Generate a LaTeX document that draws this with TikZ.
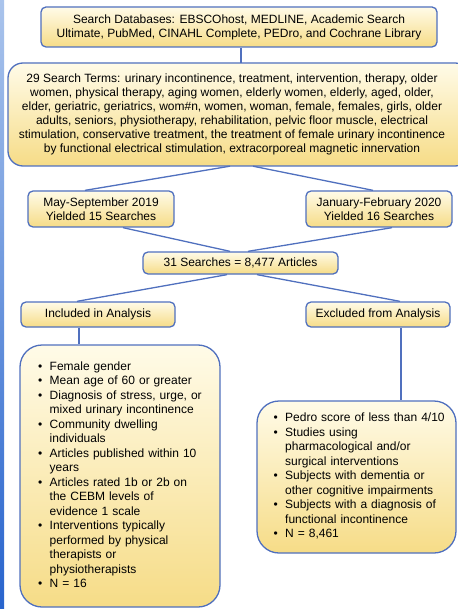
\documentclass[tikz,border=0pt]{standalone}
\usepackage{fontspec}
\setmainfont{Liberation Sans}

\definecolor{flowline}{RGB}{80,112,190}
\definecolor{boxtop}{RGB}{255,251,232}
\definecolor{boxbot}{RGB}{246,220,135}
\definecolor{stripTop}{RGB}{170,196,236}
\definecolor{stripBot}{RGB}{40,100,205}

\begin{document}
\begin{tikzpicture}[x=1pt,y=-1pt,
  boxframe/.style={draw=flowline,line width=1.3pt,top color=boxtop,bottom color=boxbot,rounded corners=5pt},
  box/.style={boxframe,inner sep=0pt,align=center,font=\fontsize{12}{14}\selectfont},
  listbox/.style={box,rounded corners=22pt,align=left,font=\fontsize{12}{14.5}\selectfont},
  link/.style={flowline,line width=1.3pt}]
  \useasboundingbox (0,0) rectangle (457,609);
  \shade[top color=stripTop,bottom color=stripBot] (0,0) rectangle (4,609);

  \node[box,minimum width=396,minimum height=40] (db) at (239,27)
    {Search Databases: EBSCOhost, MEDLINE, Academic Search\\
     Ultimate, PubMed, CINAHL Complete, PEDro, and Cochrane Library};
  % search terms box runs past the right edge
  \path[boxframe,rounded corners=15pt] (8,63) rectangle (470,166);
  \node[inner sep=0pt,align=center,font=\fontsize{12}{14}\selectfont,
    minimum width=448,minimum height=103] (terms) at (232,114.5)
    {29 Search Terms: urinary incontinence, treatment, intervention, therapy, older\\
     women, physical therapy, aging women, elderly women, elderly, aged, older,\\
     elder, geriatric, geriatrics, wom\#n, women, woman, female, females, girls, older\\
     adults, seniors, physiotherapy, rehabilitation, pelvic floor muscle, electrical\\
     stimulation, conservative treatment, the treatment of female urinary incontinence\\
     by functional electrical stimulation, extracorporeal magnetic innervation};
  \node[box,minimum width=146,minimum height=36] (may) at (101,209)
    {May-September 2019\\ Yielded 15 Searches};
  \node[box,minimum width=146,minimum height=36] (jan) at (379,209)
    {January-February 2020\\ Yielded 16 Searches};
  \node[box,minimum width=195,minimum height=22] (total) at (240.5,263)
    {31 Searches = 8,477 Articles};
  \node[box,minimum width=154,minimum height=25] (incl) at (98,314.5) {Included in Analysis};
  \node[box,minimum width=144,minimum height=25] (excl) at (378,314.5) {Excluded from Analysis};

  \node[listbox,minimum width=200,minimum height=262,text width=164,inner xsep=18] (inclist) at (120,476)
    {\begin{tabular}{@{}l@{\hspace{7.5pt}}l@{}}
     \textbullet & Female gender\\
     \textbullet & Mean age of 60 or greater\\
     \textbullet & Diagnosis of stress, urge, or\\
                 & mixed urinary incontinence\\
     \textbullet & Community dwelling\\
                 & individuals\\
     \textbullet & Articles published within 10\\
                 & years\\
     \textbullet & Articles rated 1b or 2b on\\
                 & the CEBM levels of\\
                 & evidence 1 scale\\
     \textbullet & Interventions typically\\
                 & performed by physical\\
                 & therapists or\\
                 & physiotherapists\\
     \textbullet & N = 16
     \end{tabular}};
  \node[listbox,minimum width=199,minimum height=152,text width=166,inner xsep=16.5] (exclist) at (356.5,477)
    {\begin{tabular}{@{}l@{\hspace{7.5pt}}l@{}}
     \textbullet & Pedro score of less than 4/10\\
     \textbullet & Studies using\\
                 & pharmacological and/or\\
                 & surgical interventions\\
     \textbullet & Subjects with dementia or\\
                 & other cognitive impairments\\
     \textbullet & Subjects with a diagnosis of\\
                 & functional incontinence\\
     \textbullet & N = 8,461
     \end{tabular}};

  % connectors
  \draw[link] ([xshift=2]db.south) -- ([xshift=2]db.south |- terms.north);
  \draw[link] ([xshift=-2]terms.south) -- ([xshift=-16]may.north);
  \draw[link] ([xshift=21]terms.south) -- ([xshift=-6]jan.north);
  \draw[link] ([xshift=22]may.south) -- ([xshift=-10.5]total.north);
  \draw[link] ([xshift=13]jan.south) -- ([xshift=7.5]total.north);
  \draw[link] ([xshift=-13.5]total.south) -- ([xshift=-21]incl.north);
  \draw[link] ([xshift=16.5]total.south) -- ([xshift=22]excl.north);
  \draw[link] ([xshift=-19]incl.south) -- ([xshift=-19]incl.south |- inclist.north);
  \draw[link] ([xshift=23]excl.south) -- ([xshift=23]excl.south |- exclist.north);
\end{tikzpicture}
\end{document}
